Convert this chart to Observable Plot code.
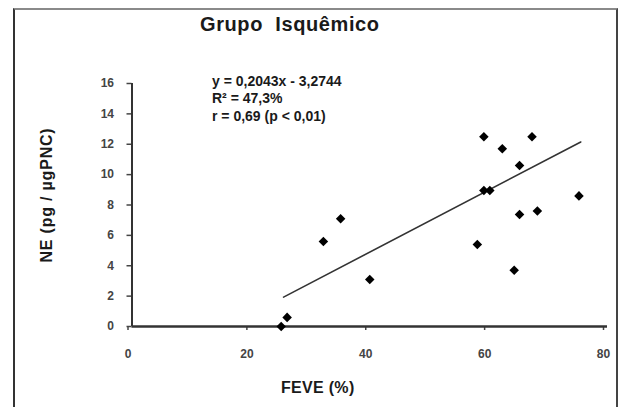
<!DOCTYPE html>
<html>
<head>
<meta charset="utf-8">
<script src="https://cdn.jsdelivr.net/npm/d3@7"></script>
<script src="https://cdn.jsdelivr.net/npm/@observablehq/plot@0.6"></script>
<style>
  html, body { margin: 0; padding: 0; background: #fff; overflow: hidden; }
  #wrap { position: relative; width: 619px; height: 407px; overflow: hidden; font-family: "Liberation Sans", Arial, sans-serif; }
  #frame { position: absolute; left: 13px; top: 8px; width: 601px; height: 430px;
           border-top: 2px solid #8a8a8a; border-left: 2px solid #333; border-right: 2px solid #444; }
  #title { position: absolute; left: 200px; top: 14px; font-size: 20px; font-weight: bold; color: #1a1a1a;
           white-space: pre; line-height: 20px; letter-spacing: 0.6px; }
  #xlabel { position: absolute; left: 281px; top: 380px; font-size: 16px; font-weight: bold; color: #1a1a1a;
            line-height: 16px; white-space: pre; letter-spacing: 0.3px; }
  #ylabel { position: absolute; left: -53.5px; top: 187px; width: 200px; text-align: center;
            font-size: 16px; font-weight: bold; color: #1a1a1a; line-height: 16px; white-space: pre;
            letter-spacing: 0.8px; transform: rotate(-90deg); transform-origin: 50% 50%; }
  #chart { position: absolute; left: 0; top: 0; }
  g[aria-label="annotation"] text { letter-spacing: 0.8px; }
</style>
</head>
<body>
<div id="wrap">
  <div id="chart"></div>
  <div id="frame"></div>
  <div id="title"></div>
  <div id="xlabel"></div>
  <div id="ylabel"></div>
</div>
<script>
// ---- data ----
const titleText = "Grupo  Isquêmico";
const xLabel = "FEVE (%)";
const yLabel = "NE (pg / µgPNC)";
const feve = [25.1, 26.1, 32.2, 35.1, 40.0, 58.1, 59.2, 59.2, 60.2, 62.3, 64.3, 65.2, 65.2, 67.3, 68.2, 75.2];
const ne   = [0.0, 0.6, 5.6, 7.1, 3.1, 5.4, 12.5, 8.95, 8.95, 11.7, 3.7, 10.6, 7.37, 12.5, 7.6, 8.6];
const slope = 0.2043;
const intercept = -3.2744;
const fitRange = [25.5, 75.5];
const xTicks = [0, 20, 40, 60, 80];
const yTicks = [0, 2, 4, 6, 8, 10, 12, 14, 16];
const annotationLines = ["y = 0,2043x - 3,2744", "R² = 47,3%", "r = 0,69 (p < 0,01)"];

// ---- build ----
document.getElementById("title").textContent = titleText;
document.getElementById("xlabel").textContent = xLabel;
document.getElementById("ylabel").textContent = yLabel;

const points = feve.map((x, i) => ({x, y: ne[i]}));
const fit = fitRange.map(x => ({x, y: slope * x + intercept}));

const plot = Plot.plot({
  width: 619,
  height: 407,
  marginLeft: 131.5,
  marginRight: 12,
  marginTop: 83,
  marginBottom: 81,
  style: {fontFamily: "Liberation Sans, Arial, sans-serif", fontSize: "12px", fontWeight: "bold", background: "transparent"},
  x: {domain: [0, 80]},
  y: {domain: [0, 16]},
  marks: [
    Plot.axisX({ticks: xTicks, tickSize: 4, tickPadding: 19, tickFormat: d => String(d), color: "#444", strokeWidth: 1.5, fontSize: 12, dx: -4, label: null}),
    Plot.axisY({ticks: yTicks, tickSize: 5, tickPadding: 13, tickFormat: d => String(d), color: "#444", strokeWidth: 1.5, fontSize: 12, label: null}),
    Plot.ruleY([0], {x1: 0, x2: 80, stroke: "#333", strokeWidth: 2.5}),
    Plot.ruleX([0], {y1: 0, y2: 16, stroke: "#333", strokeWidth: 2}),
    Plot.line(fit, {x: "x", y: "y", stroke: "#333", strokeWidth: 1.6}),
    Plot.dot(points, {x: "x", y: "y", symbol: "diamond2", r: 4.3, fill: "#000", stroke: "none"}),
    Plot.text([annotationLines.join("\n")], {
      text: d => d,
      frameAnchor: "top-left",
      textAnchor: "start",
      lineAnchor: "top",
      lineHeight: 1.27,
      fontSize: 14,
      fill: "#1a1a1a",
      dx: 80,
      dy: -10.5,
      ariaLabel: "annotation"
    })
  ]
});
document.getElementById("chart").appendChild(plot);
</script>
</body>
</html>
